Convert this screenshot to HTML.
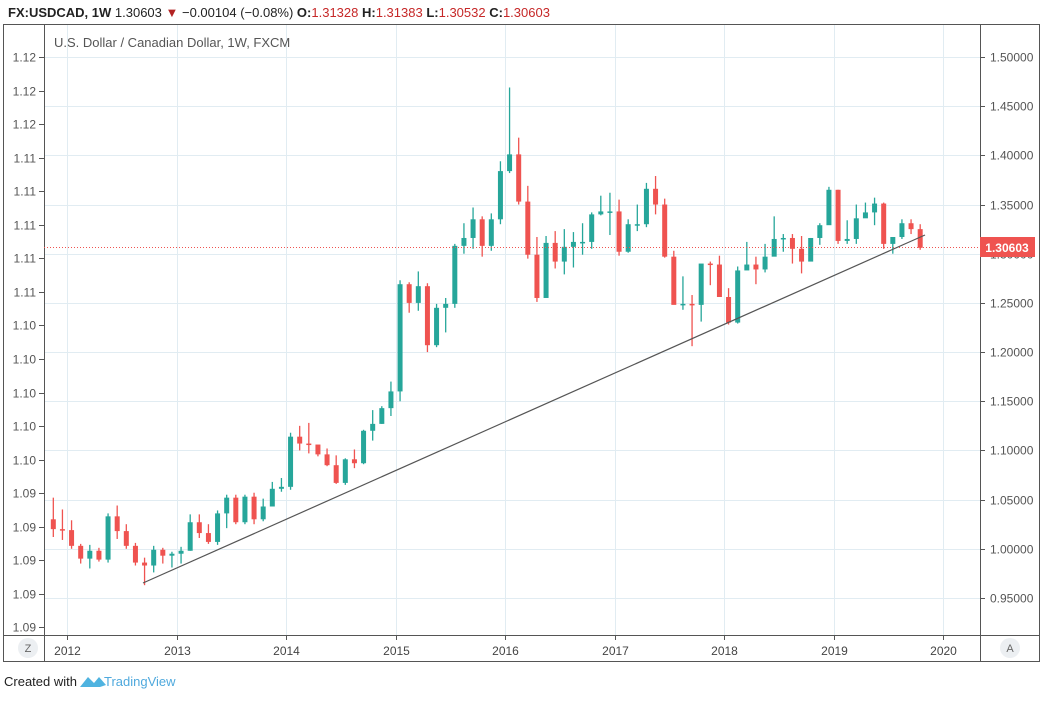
<!DOCTYPE html>
<html><head><meta charset="utf-8"><style>
body{margin:0;background:#fff;font-family:"Liberation Sans",sans-serif;}
svg text{font-family:"Liberation Sans",sans-serif;}
</style></head><body>
<svg id="c" width="1045" height="697" xmlns="http://www.w3.org/2000/svg">
<text x="8" y="17" font-size="13" font-weight="bold" fill="#222">FX:USDCAD, 1W <tspan font-weight="normal">1.30603</tspan> <tspan fill="#b22222" font-weight="normal">▼</tspan><tspan font-weight="normal"> −0.00104 (−0.08%)</tspan> O:<tspan fill="#c62828" font-weight="normal">1.31328</tspan> H:<tspan fill="#c62828" font-weight="normal">1.31383</tspan> L:<tspan fill="#c62828" font-weight="normal">1.30532</tspan> C:<tspan fill="#c62828" font-weight="normal">1.30603</tspan></text>
<g id="grid"></g>
<rect x="3.5" y="24.5" width="1036" height="637" fill="none" stroke="#555"/>
<line x1="44.5" y1="24" x2="44.5" y2="662" stroke="#555"/>
<line x1="980.5" y1="24" x2="980.5" y2="662" stroke="#555"/>
<line x1="3" y1="635.5" x2="1040" y2="635.5" stroke="#555"/>
<text x="54" y="47" font-size="13" fill="#555">U.S. Dollar / Canadian Dollar, 1W, FXCM</text>
<g id="axes"></g>
<g id="candles"></g>
<line x1="44" y1="247.5" x2="980" y2="247.5" stroke="#ef5350" stroke-dasharray="1,2"/>
<line x1="143" y1="583" x2="925" y2="235" stroke="#555" stroke-width="1.2"/>
<rect x="980" y="237" width="55" height="20" fill="#ef5350"/>
<text x="1007" y="252" font-size="12" fill="#fff" text-anchor="middle" font-weight="bold">1.30603</text>
<circle cx="28" cy="648" r="10" fill="#eceff2"/>
<text x="28" y="652" font-size="11" fill="#666" text-anchor="middle">Z</text>
<circle cx="1010" cy="648" r="10" fill="#eceff2"/>
<text x="1010" y="652" font-size="11" fill="#666" text-anchor="middle">A</text>
<text x="4" y="686" font-size="13" fill="#222">Created with</text>
<path d="M80 687 L88 677 L94 683 L99 677 L106 685 L100 687 Z" fill="#4fb3e0"/>
<text x="104" y="686" font-size="13" fill="#4fa9dd">TradingView</text>
</svg>
<script>
const years=["2012","2013","2014","2015","2016","2017","2018","2019","2020"];
const rightTicks=[1.50,1.45,1.40,1.35,1.30,1.25,1.20,1.15,1.10,1.05,1.00,0.95];
const leftTicks=["1.12","1.12","1.12","1.11","1.11","1.11","1.11","1.11","1.10","1.10","1.10","1.10","1.10","1.09","1.09","1.09","1.09","1.09"];
const startOpen=1.030;
const closes=[1.020,1.019,
1.003,0.990,0.998,0.989,1.033,1.018,1.003,0.986,0.983,0.999,0.993,0.995,
0.998,1.027,1.016,1.007,1.036,1.052,1.027,1.053,1.030,1.043,1.061,1.063,
1.114,1.107,1.106,1.096,1.085,1.067,1.091,1.087,1.120,1.127,1.143,1.160,
1.269,1.250,1.267,1.207,1.245,1.249,1.308,1.316,1.335,1.308,1.335,1.384,
1.401,1.353,1.299,1.255,1.311,1.292,1.307,1.312,1.312,1.340,1.343,1.343,
1.302,1.330,1.330,1.366,1.350,1.297,1.248,1.249,1.248,1.290,1.289,1.256,
1.230,1.283,1.289,1.284,1.297,1.315,1.316,1.305,1.292,1.316,1.329,1.365,
1.313,1.315,1.336,1.342,1.351,1.310,1.317,1.331,1.325,1.306];
const highs=[1.052,1.040,
1.029,1.005,1.004,1.001,1.036,1.044,1.025,1.006,0.991,1.003,1.001,0.997,
1.002,1.035,1.035,1.025,1.039,1.055,1.055,1.055,1.057,1.051,1.068,1.072,
1.118,1.125,1.128,1.105,1.102,1.095,1.092,1.101,1.121,1.141,1.145,1.170,
1.273,1.271,1.282,1.270,1.249,1.255,1.310,1.331,1.347,1.338,1.341,1.394,
1.469,1.418,1.369,1.317,1.318,1.323,1.325,1.322,1.331,1.342,1.359,1.362,
1.355,1.335,1.350,1.372,1.379,1.356,1.303,1.277,1.258,1.289,1.292,1.298,
1.265,1.287,1.312,1.297,1.310,1.338,1.320,1.320,1.318,1.316,1.331,1.368,
1.365,1.334,1.350,1.352,1.357,1.352,1.317,1.335,1.335,1.330];
const lows=[1.012,1.009,
1.000,0.985,0.980,0.987,0.986,1.010,1.000,0.983,0.963,0.976,0.985,0.981,
0.985,0.998,1.011,1.005,1.004,1.021,1.025,1.025,1.025,1.028,1.043,1.058,
1.060,1.100,1.097,1.094,1.084,1.066,1.065,1.082,1.086,1.110,1.127,1.135,
1.150,1.240,1.242,1.200,1.205,1.220,1.245,1.300,1.305,1.297,1.303,1.330,
1.382,1.350,1.295,1.251,1.261,1.285,1.279,1.286,1.299,1.305,1.339,1.319,
1.298,1.301,1.323,1.327,1.340,1.296,1.250,1.243,1.206,1.231,1.268,1.262,
1.228,1.229,1.285,1.269,1.281,1.298,1.302,1.290,1.280,1.296,1.309,1.330,
1.310,1.310,1.310,1.340,1.329,1.305,1.300,1.315,1.320,1.304];
const NS="http://www.w3.org/2000/svg";
function yOf(p){return 57+(1.5-p)/0.05*49.18;}
function xYear(i){return 67+i*109.5;}
function xMonth(m){return 67+(m-2+0.5)*109.5/12;}
function mk(t,a,parent){const e=document.createElementNS(NS,t);for(const k in a)e.setAttribute(k,a[k]);parent.appendChild(e);return e;}
const grid=document.getElementById('grid'),axes=document.getElementById('axes'),cg=document.getElementById('candles');
rightTicks.forEach(p=>{const y=Math.round(yOf(p))+0.5;
 const g=mk('line',{x1:44,x2:980,y1:y,y2:y,stroke:'#e1ecf2'},grid);
 
 
 mk('line',{x1:980,x2:985,y1:y,y2:y,stroke:'#555'},axes);
 const t=mk('text',{x:990,y:y+4,'font-size':12,fill:'#555'},axes);t.textContent=p.toFixed(5);
 
 
});
leftTicks.forEach((s,i)=>{const y=Math.round(57+i*33.55)+0.5;
 mk('line',{x1:39,x2:44,y1:y,y2:y,stroke:'#555'},axes);
 const t=mk('text',{x:36,y:y+4,'font-size':12,fill:'#555','text-anchor':'end'},axes);t.textContent=s;
 
 
});
years.forEach((s,i)=>{const x=Math.round(xYear(i))+0.5;
 const g=mk('line',{x1:x,x2:x,y1:24,y2:635,stroke:'#e1ecf2'},grid);
 
 
 mk('line',{x1:x,x2:x,y1:635,y2:640,stroke:'#555'},axes);
 const t=mk('text',{x:x,y:655,'font-size':12,fill:'#444','text-anchor':'middle'},axes);t.textContent=s;
 
 
});
let prev=startOpen;
closes.forEach((c,m)=>{const o=prev;prev=c;const x=xMonth(m);const up=c>=o;const col=up?'#26a69a':'#ef5350';
 const w=mk('line',{x1:x,x2:x,y1:yOf(highs[m]),y2:yOf(lows[m]),stroke:col,'stroke-width':1.3},cg);
 
 
 const top=yOf(Math.max(o,c)),bot=yOf(Math.min(o,c));
 const r=mk('rect',{x:x-2.5,y:top,width:5,height:Math.max(1.5,bot-top),fill:col},cg);
 
 
});
</script>
</body></html>
